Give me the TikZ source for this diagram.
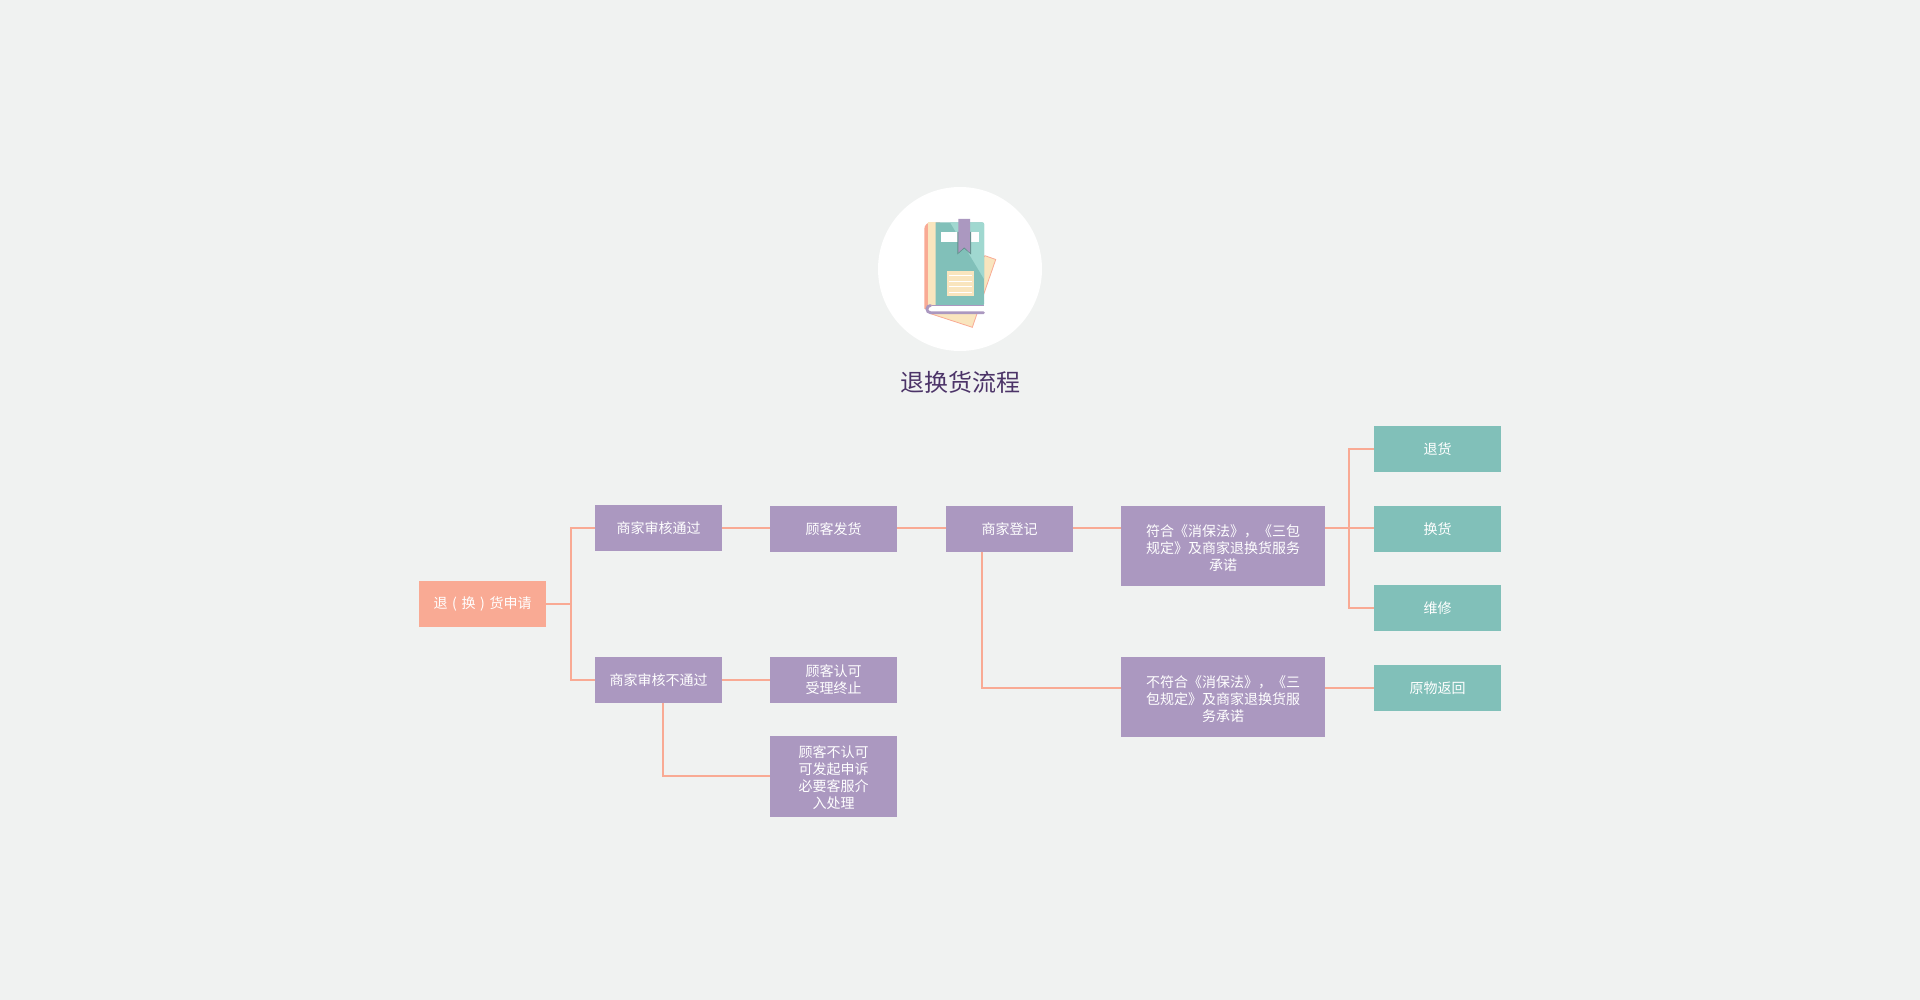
\documentclass[tikz,border=0pt]{standalone}
\usepackage{fontspec}
\setmainfont{Noto Sans CJK SC}
\definecolor{mlpage}{RGB}{240,242,241}
\definecolor{mlpurple}{RGB}{171,152,192}
\definecolor{mlsalmon}{RGB}{249,170,148}
\definecolor{mlteal}{RGB}{129,192,185}
\definecolor{mlcream}{RGB}{249,229,190}
\definecolor{mlpaleteal}{RGB}{160,216,208}
\definecolor{mltitle}{RGB}{76,52,104}
\newcommand{\liftline}[1]{\rule{0pt}{#1}}
\tikzset{
  flowbox/.style={minimum width=127pt, minimum height=46pt, inner sep=0pt, align=center, text=white, font=\fontsize{14}{16.9}\selectfont},
  purplebox/.style={flowbox, fill=mlpurple},
  startbox/.style={flowbox, fill=mlsalmon},
  tealbox/.style={flowbox, fill=mlteal},
  widebox/.style={purplebox, minimum width=204pt, minimum height=80pt},
  link/.style={draw=mlsalmon, line width=1.8pt},
}
\begin{document}
\begin{tikzpicture}[x=1pt, y=-1pt]
\useasboundingbox[fill=mlpage] (0,0) rectangle (1920,1000);

% Icon
\fill[white] (960,269) circle (82);
\filldraw[fill=mlcream, draw=mlsalmon, line width=0.8pt] (985,255.7) -- (995.7,259.5) -- (972.3,327.3) -- (930,313.5) -- cycle;
\fill[mlsalmon] (940,222.3) -- (940,309) -- (924.3,309) -- (924.3,229) arc (180:270:6.7) -- cycle;
\fill[mlcream] (927.7,222.3) -- (936,222.3) -- (936,305.5) -- (927.7,305.5) -- cycle;
\fill[mlteal] (935.7,222.3) -- (982,222.3) arc (270:360:2.2) -- (984.2,303.5) arc (0:90:2.2) -- (935.7,305.7) -- cycle;
\fill[mlpaleteal] (950,222.3) -- (982,222.3) arc (270:360:2.2) -- (984.2,279.3) -- cycle;
\fill[white!92!mlpage] (941.3,232.3) rectangle (979.3,241.7);
\fill[mlteal!75!black] (957.3,232) -- (971,232) -- (971,254.5) -- (964.2,248.5) -- (957.3,254.5) -- cycle;
\fill[mlpurple] (958.3,219) -- (970,219) -- (970,252.7) -- (964.2,247.3) -- (958.3,252.7) -- cycle;
\fill[mlcream] (947,271) rectangle (974.3,296);
\foreach \ruley in {275,281,286.7,292.3}
  \draw[white, line width=0.8pt] (949.3,\ruley) -- (971.7,\ruley);
\fill[white] (984,306) -- (932,306) arc (270:90:3.5) -- (984,313) -- cycle;
\draw[mlpurple, line width=1pt] (932,305.5) -- (984,305.5);
\draw[mlpurple, line width=2.8pt, line cap=round] (983.5,312.7) -- (930.5,312.7) arc (90:270:3.6);

% Title
\node[text=mltitle, font=\fontsize{24}{28}\selectfont] (title) at (960,382.3) {退换货流程};

% Flow boxes
\node[startbox] (apply) at (482.5,603.7) {退\makebox[14pt]{(}换\makebox[14pt]{)}货申请};
\node[purplebox] (pass) at (658.5,527.7) {商家审核通过};
\node[purplebox] (ship) at (833.5,528.7) {顾客发货};
\node[purplebox] (record) at (1009.5,528.7) {商家登记};
\node[widebox] (conform) at (1223,545.7) {\liftline{16pt}符合《消保法》，《三包\\规定》及商家退换货服务\\承诺};
\node[tealbox] (goback) at (1437.5,448.7) {退货};
\node[tealbox] (swap) at (1437.5,528.7) {换货};
\node[tealbox] (repair) at (1437.5,607.7) {维修};
\node[widebox] (refuse) at (1223,696.7) {\liftline{16pt}不符合《消保法》，《三\\包规定》及商家退换货服\\务承诺};
\node[tealbox] (retour) at (1437.5,687.7) {原物返回};
\node[purplebox] (fail) at (658.5,679.7) {商家审核不通过};
\node[purplebox] (accept) at (833.5,679.7) {顾客认可\\受理终止};
\node[purplebox, minimum height=81pt] (appeal) at (833.5,776.3) {\liftline{14.5pt}顾客不认可\\可发起申诉\\必要客服介\\入处理};

% Connectors
\coordinate (applyfork) at (571,603.7);
\coordinate (failfork) at (663,702.7);
\coordinate (recordfork) at (982,551.7);
\coordinate (conformfork) at (1349,527.7);
\draw[link] (apply.east) -- (applyfork);
\draw[link] (pass.west) -| (applyfork) |- (fail.west);
\draw[link] (pass.east) -- (pass.east -| ship.west);
\draw[link] (ship.east |- pass.east) -- (record.west |- pass.east);
\draw[link] (record.east |- pass.east) -- (conform.west |- pass.east);
\draw[link] (fail.east) -- (accept.west);
\draw[link] (failfork) |- (appeal.west);
\draw[link] (recordfork) |- (refuse.west |- retour.west);
\draw[link] (refuse.east |- retour.west) -- (retour.west);
\draw[link] (conform.east |- conformfork) -- (swap.west |- conformfork);
\draw[link] (goback.west) -| (conformfork) |- (repair.west);
\end{tikzpicture}
\end{document}
